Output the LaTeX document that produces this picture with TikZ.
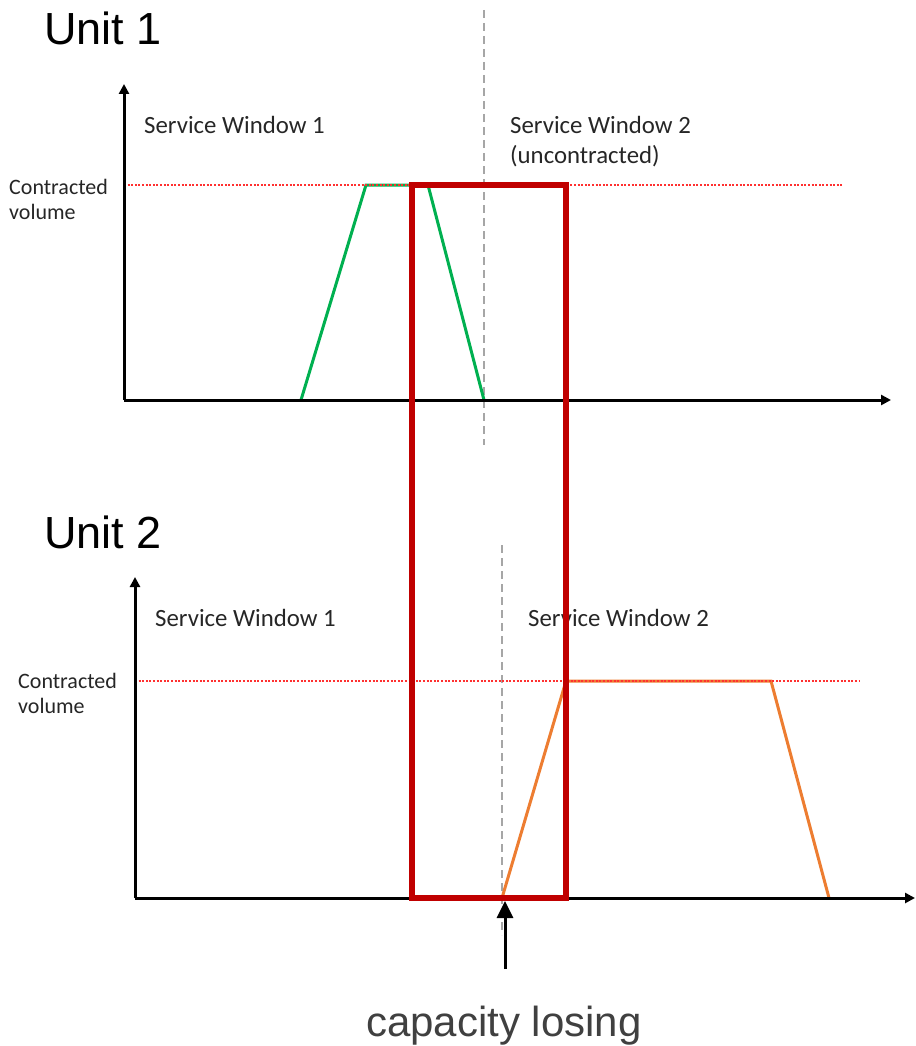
\documentclass[tikz,border=0pt]{standalone}
\usepackage{fontspec}
\newfontfamily\calfont{Carlito}
\newfontfamily\arifont{Liberation Sans}
\usetikzlibrary{arrows.meta}
\definecolor{greenline}{HTML}{00B050}
\definecolor{orangeline}{HTML}{ED7D31}
\definecolor{boxred}{HTML}{C00000}
\definecolor{dashgray}{HTML}{A6A6A6}
\definecolor{txtdark}{HTML}{262626}
\definecolor{capgray}{HTML}{404040}
\definecolor{dotred}{HTML}{FF3030}
\begin{document}
\begin{tikzpicture}[x=1pt,y=-1pt,
  axis/.style={line width=3pt,-{Triangle[length=10pt,width=10pt]}},
  refline/.style={dotred,line width=1.2pt,dash pattern=on 2pt off 1.6pt},
  sepline/.style={dashgray,line width=2pt,dash pattern=on 8pt off 5pt},
  swlabel/.style={anchor=base west,inner sep=0pt,text=txtdark,font=\calfont\fontsize{24.8}{28}\selectfont},
  cvlabel/.style={anchor=base west,inner sep=0pt,text=txtdark,align=left,font=\calfont\fontsize{22}{25}\selectfont},
  unitlabel/.style={anchor=base west,inner sep=0pt,font=\arifont\fontsize{45}{50}\selectfont},
  profile/.style={line width=3pt,line join=miter}
]
\useasboundingbox (0,0) rectangle (915,1046);

% ---------- Unit 1 ----------
\node[unitlabel] (u1) at (44,45) {Unit 1};
\coordinate (o1) at (124,400);
\coordinate (y1) at (124,84);
\coordinate (x1) at (891,400);
\coordinate (s1t) at (484,10);
\coordinate (s1b) at (484,445);
\draw[sepline] (s1t) -- (s1b);
\coordinate (g1) at (301,400);
\coordinate (g2) at (366,185);
\coordinate (g3) at (428,185);
\coordinate (g4) at (484,400);
\draw[profile,greenline] (g1) -- (g2) -- (g3) -- (g4);
\coordinate (r1a) at (124,185);
\coordinate (r1b) at (842,185);
\draw[refline] (r1a) -- (r1b);
\draw[axis] (o1) -- (y1);
\draw[axis] (o1) -- (x1);
\node[swlabel] (sw11) at (144,133) {Service Window 1};
\node[swlabel] (sw12) at (510,133) {Service Window 2};
\node[swlabel] (sw12b) at (510,163) {(uncontracted)};
\node[cvlabel] (cv1a) at (9,194) {Contracted};
\node[cvlabel] (cv1b) at (9,219) {volume};

% ---------- Unit 2 ----------
\node[unitlabel] (u2) at (44,548) {Unit 2};
\coordinate (o2) at (135,898);
\coordinate (y2) at (135,577);
\coordinate (x2) at (915,898);
\coordinate (s2t) at (502,545);
\coordinate (s2b) at (502,935);
\draw[sepline] (s2t) -- (s2b);
\coordinate (h1) at (502,898);
\coordinate (h2) at (566,681);
\coordinate (h3) at (771,681);
\coordinate (h4) at (829,898);
\draw[profile,orangeline] (h1) -- (h2) -- (h3) -- (h4);
\coordinate (r2a) at (135,681);
\coordinate (r2b) at (860,681);
\draw[refline] (r2a) -- (r2b);
\draw[axis] (o2) -- (y2);
\draw[axis] (o2) -- (x2);
\node[swlabel] (sw21) at (155,626) {Service Window 1};
\node[swlabel] (sw22) at (528,626) {Service Window 2};
\node[cvlabel] (cv2a) at (18,688) {Contracted};
\node[cvlabel] (cv2b) at (18,713) {volume};

% ---------- highlight box ----------
\coordinate (bx1) at (412,185);
\coordinate (bx2) at (566,898);
\draw[boxred,line width=6pt] (bx1) rectangle (bx2);

% ---------- capacity losing ----------
\coordinate (arrtail) at (505,969);
\coordinate (arrhead) at (505,901);
\draw[line width=3pt,-{Triangle[length=17pt,width=16pt]}] (arrtail) -- (arrhead);
\node[anchor=base,inner sep=0pt,text=capgray,font=\arifont\fontsize{42}{48}\selectfont] (cap) at (504,1036) {capacity losing};
\end{tikzpicture}
\end{document}
